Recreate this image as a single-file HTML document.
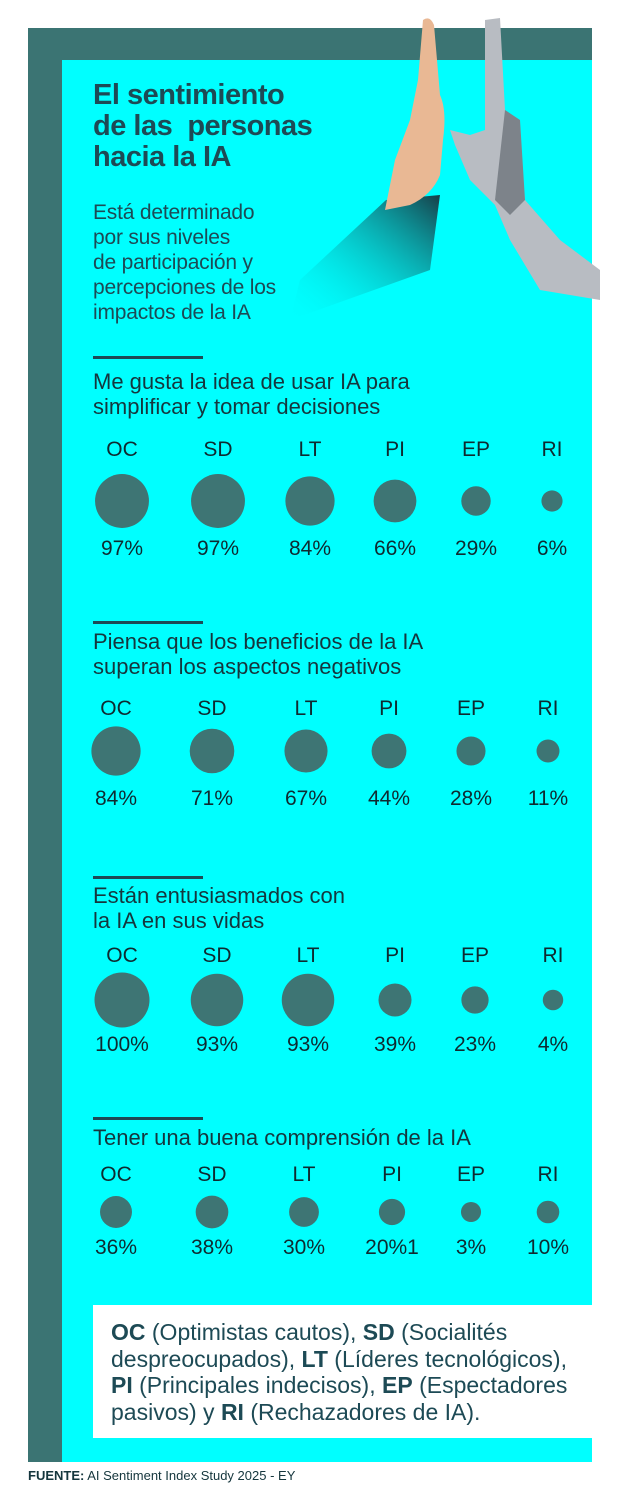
<!DOCTYPE html>
<html><head><meta charset="utf-8">
<style>
body{margin:0;width:620px;height:1498px;background:#fff;position:relative;overflow:hidden;font-family:"Liberation Sans",sans-serif;}
.abs{position:absolute;}
#frame{left:28px;top:28px;width:564px;height:1434px;background:#3b7473;}
#inner{left:62px;top:60px;width:530px;height:1402px;background:#00ffff;}
h1{position:absolute;left:93px;top:80px;margin:0;font-size:29px;line-height:31px;font-weight:bold;color:#1d4a55;letter-spacing:-0.5px;}
.sub{left:93px;top:200px;font-size:21px;line-height:25px;color:#1d4a55;letter-spacing:-0.2px;}
.rule{height:3px;width:110px;background:#1d4a55;left:93px;}
.qt{left:93px;font-size:22px;line-height:25px;color:#15363d;}
#legend{left:93px;top:1305px;width:499px;height:133px;background:#fff;}
#legend p{margin:14px 0 0 18px;font-size:23px;line-height:26.5px;color:#1d4a55;}
#legend b{font-weight:900;}
#src{left:28px;top:1468px;font-size:13px;color:#15363d;}
svg text{font-family:"Liberation Sans",sans-serif;fill:#0f2a30;}
</style></head><body>
<div id="frame" class="abs"></div>
<div id="inner" class="abs"></div>
<svg class="abs" style="left:0;top:0" width="620" height="340">
 <defs><linearGradient id="sl" x1="1" y1="0" x2="0" y2="1"><stop offset="0" stop-color="#173f48"/><stop offset="1" stop-color="#00ffff" stop-opacity="0"/></linearGradient></defs>
 <path d="M386 200 L440 195 L430 270 L290 320 L300 280 Z" fill="url(#sl)"/>
 <path d="M423 20 Q430 15 434 25 L440 95 Q447 110 443 140 L440 175 Q432 195 410 205 L385 210 L395 160 L410 120 L418 80 Z" fill="#e9b894"/>
 <path d="M485 20 L500 18 L505 110 L518 120 L525 200 L560 240 L600 270 L600 300 L540 290 L510 240 L495 205 L470 180 L455 145 L450 130 L470 135 L485 130 Z" fill="#b8bcc2"/>
 <path d="M505 110 L520 120 L525 200 L510 215 L495 200 Z" fill="#7d838a"/>
</svg>
<h1>El sentimiento<br>de las&nbsp; personas<br>hacia la IA</h1>
<div class="abs sub">Está determinado<br>por sus niveles<br>de participación y<br>percepciones de los<br>impactos de la IA</div>

<div class="abs rule" style="top:356px"></div>
<div class="abs qt" style="top:369px">Me gusta la idea de usar IA para<br>simplificar y tomar decisiones</div>
<div class="abs rule" style="top:621px"></div>
<div class="abs qt" style="top:629px">Piensa que los beneficios de la IA<br>superan los aspectos negativos</div>
<div class="abs rule" style="top:876px"></div>
<div class="abs qt" style="top:883px">Están entusiasmados con<br>la IA en sus vidas</div>
<div class="abs rule" style="top:1117px"></div>
<div class="abs qt" style="top:1125px">Tener una buena comprensión de la IA</div>

<svg id="chart" class="abs" style="left:0;top:0" width="620" height="1300"></svg>

<div id="legend" class="abs"><p><b>OC</b> (Optimistas cautos), <b>SD</b> (Socialités despreocupados), <b>LT</b> (Líderes tecnológicos), <b>PI</b> (Principales indecisos), <b>EP</b> (Espectadores pasivos) y <b>RI</b> (Rechazadores de IA).</p></div>
<div id="src" class="abs"><b>FUENTE:</b> AI Sentiment Index Study 2025 - EY</div>

<script>
const categories = ["OC","SD","LT","PI","EP","RI"];
const q1Values = [97,97,84,66,29,6];
const q2Values = [84,71,67,44,28,11];
const q3Values = [100,93,93,39,23,4];
const q4Values = [36,38,30,20,3,10];
const q4Labels = ["36%","38%","30%","20%1","3%","10%"];
const series = [q1Values,q2Values,q3Values,q4Values];
const rowLayout = [
 {xs:[122,218,310,395,476,552], cy:501, ly:456, py:555},
 {xs:[116,212,306,389,471,548], cy:751, ly:715, py:805},
 {xs:[122,217,308,395,475,553], cy:1000, ly:962, py:1051},
 {xs:[116,212,304,392,471,548], cy:1212, ly:1181, py:1254}
];
function rScale(v){return 9.5 + 18*v/100;}
const svg=document.getElementById('chart');
const NS='http://www.w3.org/2000/svg';
series.forEach((vals,ri)=>{
 const L=rowLayout[ri];
 vals.forEach((v,i)=>{
  const t=document.createElementNS(NS,'text');
  t.setAttribute('x',L.xs[i]);t.setAttribute('y',L.ly);t.setAttribute('text-anchor','middle');t.setAttribute('font-size','21');
  t.textContent=categories[i];
  
  
  svg.appendChild(t);
  const c=document.createElementNS(NS,'circle');
  c.setAttribute('cx',L.xs[i]);c.setAttribute('cy',L.cy);c.setAttribute('r',rScale(v));c.setAttribute('fill','#3e7574');
  
  
  svg.appendChild(c);
  const p=document.createElementNS(NS,'text');
  p.setAttribute('x',L.xs[i]);p.setAttribute('y',L.py);p.setAttribute('text-anchor','middle');p.setAttribute('font-size','21');
  p.textContent= ri===3 ? q4Labels[i] : v+'%';
  
  
  svg.appendChild(p);
 });
});
</script>
</body></html>
